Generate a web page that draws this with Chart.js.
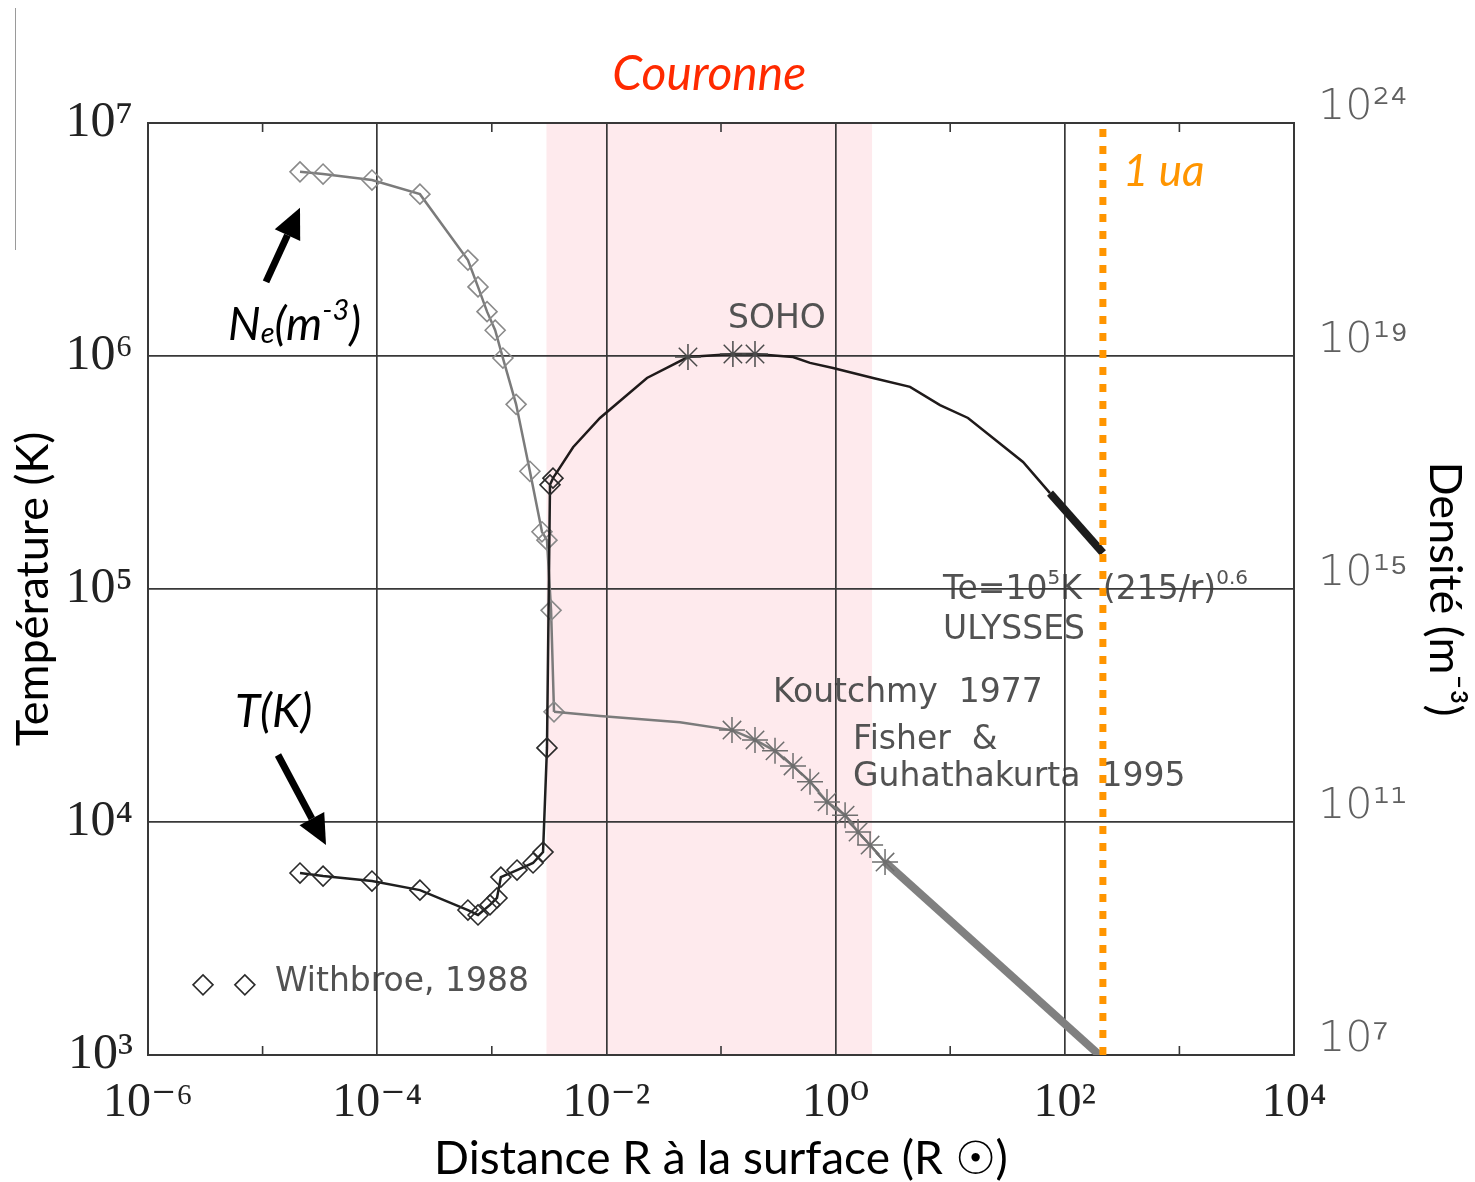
<!DOCTYPE html>
<html lang="fr">
<head>
<meta charset="utf-8">
<title>Température et densité de la couronne solaire</title>
<script src="https://cdn.jsdelivr.net/npm/chart.js@4.4.1/dist/chart.umd.min.js"></script>
<style>
  html, body { margin: 0; padding: 0; background: #fff; overflow: hidden; }
  #wrap { width: 1475px; height: 1182px; position: relative; }
</style>
</head>
<body>
<div id="wrap"><canvas id="chart"></canvas></div>
<script>
// Décades des axes (exposants)
const xDecades = [-6, -5, -4, -3, -2, -1, 0, 1, 2, 3, 4];
const yDecades = [3, 4, 5, 6, 7];
// Axe de droite : densité, une étiquette par décade de température
const densityTicks = ['10⁷', '10¹¹', '10¹⁵', '10¹⁹', '10²⁴'];

// Température, Withbroe 1988 (losanges)
const tWbR = [2.12e-5, 3.37e-5, 9.0e-5, 2.36e-4, 6.19e-4, 7.58e-4, 9.64e-4, 1.11e-3, 1.20e-3, 1.66e-3, 2.29e-3, 2.80e-3, 3.03e-3, 3.22e-3, 3.42e-3];
const tWbT = [6.04e3, 5.86e3, 5.58e3, 5.10e3, 4.19e3, 3.99e3, 4.41e3, 4.72e3, 5.8e3, 6.22e3, 6.67e3, 7.43e3, 2.08e4, 2.8e5, 2.99e5];
// Température dans la couronne puis le vent
const tCorR = [3.42e-3, 5.12e-3, 8.79e-3, 0.0226, 0.0515, 0.127, 0.198, 0.425, 0.598, 0.949, 2.12, 4.46, 8.15, 14.3, 43.2, 74.3];
const tCorT = [2.99e5, 4.06e5, 5.42e5, 8.05e5, 9.9e5, 1.02e6, 1.02e6, 9.9e5, 9.34e5, 8.88e5, 8.05e5, 7.37e5, 6.16e5, 5.42e5, 3.51e5, 2.58e5];
const sohoR = [0.0515, 0.127, 0.198];
const sohoT = [9.9e5, 1.02e6, 1.02e6];
// Te = 1e5 K (215/r)^0.6 (ULYSSES)
const ulyssesR = [74.3, 215];
const ulyssesT = [2.58e5, 1.43e5];

// Densité électronique, placée sur l'échelle de gauche (l'axe de droite la renomme)
const neWbR = [2.12e-5, 3.37e-5, 9.0e-5, 2.36e-4, 6.19e-4, 7.58e-4, 9.09e-4, 1.07e-3, 1.25e-3, 1.63e-3, 2.15e-3, 2.74e-3, 3.03e-3, 3.29e-3, 3.49e-3];
const neWbV = [6.17e6, 6.04e6, 5.69e6, 4.95e6, 2.58e6, 1.98e6, 1.55e6, 1.29e6, 9.8e5, 6.2e5, 3.2e5, 1.76e5, 1.62e5, 8.1e4, 2.97e4];
const neCorR = [3.49e-3, 8.8e-3, 0.0438, 0.1247, 0.198, 0.296, 0.425, 0.598, 0.841, 1.21, 1.57, 2.0, 2.70];
const neCorV = [2.97e4, 2.85e4, 2.68e4, 2.48e4, 2.25e4, 2.02e4, 1.74e4, 1.49e4, 1.22e4, 1.07e4, 9.06e3, 7.96e3, 6.73e3];
// Koutchmy 1977, Fisher & Guhathakurta 1995 (astérisques)
const kfR = [0.1247, 0.198, 0.296, 0.425, 0.598, 0.841, 1.21, 1.57, 2.0, 2.70];
const kfV = [2.48e4, 2.25e4, 2.02e4, 1.74e4, 1.49e4, 1.22e4, 1.07e4, 9.06e3, 7.96e3, 6.73e3];
const neFitR = [2.70, 200];
const neFitV = [6.73e3, 1.0e3];

const coronaBand = [3e-3, 2.08];
const auR = 215;
const legendR = [3.02e-6, 7.0e-6];
const legendV = [2.0e3, 2.0e3];

const notes = [
  { text: 'SOHO', r: 0.115, v: 1.43e6 },
  { text: 'ULYSSES', r: 8.65, v: 6.67e4 },
  { text: 'Koutchmy  1977', r: 0.284, v: 3.58e4 },
  { text: 'Fisher  &', r: 1.42, v: 2.23e4 },
  { text: 'Guhathakurta  1995', r: 1.42, v: 1.56e4 },
  { text: 'Withbroe, 1988', r: 1.28e-5, v: 2.05e3 }
];

const SUP = { '-': '⁻', '0': '⁰', '1': '¹', '2': '²', '3': '³', '4': '⁴', '5': '⁵', '6': '⁶', '7': '⁷', '8': '⁸', '9': '⁹' };
const sup = s => String(s).split('').map(c => SUP[c] || c).join('');
const pts = (xs, ys) => xs.map((x, i) => ({ x: x, y: ys[i] }));
const decade = e => Math.pow(10, e);
const expOf = v => Math.round(Math.log10(v));

const GRID = '#383838';
const NOTE_FONT = '"DejaVu Sans", sans-serif';
const HAND_FONT = 'Lato, "Open Sans", sans-serif';

function drawRuns(ctx, x, y, runs, size, family, style) {
    runs.forEach(([txt, k, dy]) => {
        ctx.font = `${style || ''} ${Math.round(size * k)}px ${family}`;
        ctx.fillText(txt, x, y + dy * size);
        x += ctx.measureText(txt).width;
    });
}

function drawArrow(ctx, x0, y0, x1, y1) {
    const ang = Math.atan2(y1 - y0, x1 - x0);
    const head = 30, half = 14;
    const bx = x1 - head * Math.cos(ang), by = y1 - head * Math.sin(ang);
    ctx.strokeStyle = '#000';
    ctx.lineWidth = 7;
    ctx.beginPath();
    ctx.moveTo(x0, y0);
    ctx.lineTo(bx, by);
    ctx.stroke();
    ctx.fillStyle = '#000';
    ctx.beginPath();
    ctx.moveTo(x1, y1);
    ctx.lineTo(bx + half * Math.sin(ang), by - half * Math.cos(ang));
    ctx.lineTo(bx - half * Math.sin(ang), by + half * Math.cos(ang));
    ctx.closePath();
    ctx.fill();
}

const decor = {
    id: 'decor',
    beforeDraw(chart) {
        const { ctx, chartArea: a, scales: { x, y } } = chart;
        ctx.save();
        ctx.fillStyle = '#fff';
        ctx.fillRect(0, 0, chart.width, chart.height);

        // couronne
        const b0 = x.getPixelForValue(coronaBand[0]);
        const b1 = x.getPixelForValue(coronaBand[1]);
        ctx.fillStyle = '#feeaed';
        ctx.fillRect(b0, a.top, b1 - b0, a.bottom - a.top);

        // notes dans le graphe
        ctx.fillStyle = '#525252';
        ctx.textBaseline = 'middle';
        ctx.textAlign = 'left';
        notes.forEach(n => {
            ctx.font = `33px ${NOTE_FONT}`;
            ctx.fillText(n.text, x.getPixelForValue(n.r), y.getPixelForValue(n.v));
        });
        drawRuns(ctx, x.getPixelForValue(8.65), y.getPixelForValue(9.9e4),
            [['Te=10', 1, 0], ['5', 0.62, -0.33], ['K  (215/r)', 1, 0], ['0.6', 0.62, -0.33]],
            33, NOTE_FONT);
        ctx.restore();
    },
    beforeDatasetsDraw(chart) {
        const { ctx, chartArea: a, scales: { x } } = chart;
        ctx.save();
        ctx.strokeStyle = GRID;
        ctx.lineWidth = 1.6;
        // petites graduations des décades impaires
        xDecades.filter(e => e % 2 !== 0).forEach(e => {
            const px = x.getPixelForValue(decade(e));
            ctx.beginPath();
            ctx.moveTo(px, a.top); ctx.lineTo(px, a.top + 9);
            ctx.moveTo(px, a.bottom); ctx.lineTo(px, a.bottom - 9);
            ctx.stroke();
        });
        ctx.lineWidth = 2;
        ctx.strokeRect(a.left, a.top, a.right - a.left, a.bottom - a.top);
        ctx.restore();
    },
    afterDraw(chart) {
        const { ctx, chartArea: a, scales: { x, y } } = chart;
        ctx.save();
        ctx.textBaseline = 'middle';

        // titre de la bande
        const mid = Math.sqrt(coronaBand[0] * coronaBand[1]);
        ctx.fillStyle = '#ff2a00';
        ctx.textAlign = 'center';
        ctx.font = `italic 48px ${HAND_FONT}`;
        ctx.fillText('Couronne', x.getPixelForValue(mid), a.top - 48);

        ctx.textAlign = 'left';
        ctx.fillStyle = '#ff9500';
        ctx.font = `italic 44px ${HAND_FONT}`;
        ctx.fillText('1 ua', x.getPixelForValue(auR) + 20, y.getPixelForValue(6.17e6));

        // étiquettes des courbes et flèches
        ctx.fillStyle = '#000';
        drawRuns(ctx, x.getPixelForValue(4.99e-6), y.getPixelForValue(1.36e6),
            [['N', 1, 0], ['e', 0.62, 0.2], ['(m', 1, 0], ['-3', 0.62, -0.32], [')', 1, 0]],
            46, HAND_FONT, 'italic');
        ctx.font = `italic 46px ${HAND_FONT}`;
        ctx.fillText('T(K)', x.getPixelForValue(5.74e-6), y.getPixelForValue(2.97e4));

        const ne0x = x.getPixelForValue(neWbR[0]), ne0y = y.getPixelForValue(neWbV[0]);
        drawArrow(ctx, ne0x - 34, ne0y + 110, ne0x, ne0y + 36);
        const t0x = x.getPixelForValue(tWbR[0]), t0y = y.getPixelForValue(tWbT[0]);
        drawArrow(ctx, t0x - 22, t0y - 118, t0x + 26, t0y - 28);

        ctx.strokeStyle = '#9a9a9a';
        ctx.lineWidth = 1;
        ctx.beginPath();
        ctx.moveTo(15.5, 8); ctx.lineTo(15.5, 250);
        ctx.stroke();
        ctx.restore();
    }
};

const line = { type: 'line', tension: 0, fill: false, pointRadius: 0, borderWidth: 2.5 };
const diamonds = { pointStyle: 'rectRot', pointRadius: 10, pointBorderWidth: 1.6, pointBackgroundColor: 'rgba(0,0,0,0)' };
const stars = { pointStyle: 'star', pointRadius: 13, pointBorderWidth: 1.5, showLine: false };

new Chart(document.getElementById('chart'), {
    type: 'line',
    data: {
        datasets: [
            { ...line, label: '1 ua', data: pts([auR, auR], [decade(yDecades[0]), decade(yDecades[yDecades.length - 1])]),
              borderColor: '#ff9500', borderWidth: 7, borderDash: [8, 9], borderCapStyle: 'butt' },
            { ...line, ...stars, label: 'SOHO', data: pts(sohoR, sohoT), pointBorderColor: '#4a4a4a' },
            { ...line, label: 'ULYSSES', data: pts(ulyssesR, ulyssesT), borderColor: '#1c1c1c', borderWidth: 8, borderCapStyle: 'butt' },
            { ...line, label: 'T couronne', data: pts(tCorR, tCorT), borderColor: '#1f1a1a' },
            { ...line, ...diamonds, label: 'T Withbroe', data: pts(tWbR, tWbT), borderColor: '#1f1f1f', pointBorderColor: '#2a2a2a' },
            { ...line, ...stars, label: 'Koutchmy / Fisher & Guhathakurta', data: pts(kfR, kfV), pointBorderColor: '#6e6e6e' },
            { ...line, label: 'Ne loi', data: pts(neFitR, neFitV), borderColor: '#808080', borderWidth: 8, borderCapStyle: 'butt' },
            { ...line, label: 'Ne couronne', data: pts(neCorR, neCorV), borderColor: '#7b7b7b' },
            { ...line, ...diamonds, label: 'Ne Withbroe', data: pts(neWbR, neWbV), borderColor: '#7b7b7b', pointBorderColor: '#8a8a8a' },
            { ...line, ...diamonds, label: 'légende', data: pts(legendR, legendV), showLine: false, pointBorderColor: '#2a2a2a' }
        ]
    },
    options: {
        responsive: true,
        maintainAspectRatio: false,
        animation: false,
        layout: { padding: { top: 123, left: 0, right: 0, bottom: 0 } },
        plugins: { legend: { display: false }, tooltip: { enabled: false } },
        scales: {
            x: {
                type: 'logarithmic',
                position: 'bottom',
                min: decade(xDecades[0]),
                max: decade(xDecades[xDecades.length - 1]),
                afterBuildTicks: s => { s.ticks = xDecades.map(e => ({ value: decade(e) })); },
                afterFit: s => { s.height = 127; },
                ticks: {
                    autoSkip: false, maxRotation: 0, padding: 20, color: '#222',
                    font: { family: '"Liberation Serif", "DejaVu Serif", serif', size: 48 },
                    callback: v => expOf(v) % 2 === 0 ? '10' + sup(expOf(v)) : ''
                },
                grid: {
                    drawTicks: false, lineWidth: 1.7,
                    color: c => (c.tick && expOf(c.tick.value) % 2 === 0) ? GRID : 'rgba(0,0,0,0)'
                },
                border: { display: false },
                title: {
                    display: true, text: 'Distance R à la surface (R ☉)', color: '#000',
                    font: { family: HAND_FONT, size: 46, lineHeight: 1.0 }, padding: { top: 0, bottom: 0 }
                }
            },
            y: {
                type: 'logarithmic',
                position: 'left',
                min: decade(yDecades[0]),
                max: decade(yDecades[yDecades.length - 1]),
                afterBuildTicks: s => { s.ticks = yDecades.map(e => ({ value: decade(e) })); },
                afterFit: s => { s.width = 148; },
                ticks: {
                    padding: 15, color: '#222',
                    font: { family: '"Liberation Serif", "DejaVu Serif", serif', size: 50 },
                    callback: v => '10' + sup(expOf(v))
                },
                grid: { drawTicks: false, lineWidth: 1.7, color: GRID },
                border: { display: false },
                title: {
                    display: true, text: 'Température (K)', color: '#000',
                    font: { family: HAND_FONT, size: 45 }, padding: { top: 6, bottom: 0 }
                }
            },
            y2: {
                type: 'logarithmic',
                position: 'right',
                min: decade(yDecades[0]),
                max: decade(yDecades[yDecades.length - 1]),
                afterBuildTicks: s => { s.ticks = yDecades.map(e => ({ value: decade(e) })); },
                afterFit: s => { s.width = 181; },
                ticks: {
                    padding: 24, color: '#606060', labelOffset: -15,
                    font: { family: NOTE_FONT, size: 43, weight: '200' },
                    callback: (v, i) => densityTicks[i]
                },
                grid: { display: false, drawTicks: false },
                border: { display: false },
                title: {
                    display: true, text: 'Densité (m⁻³)', color: '#000',
                    font: { family: HAND_FONT, size: 45 }, padding: { top: 3, bottom: 0 }
                }
            }
        }
    },
    plugins: [decor]
});
</script>
</body>
</html>
